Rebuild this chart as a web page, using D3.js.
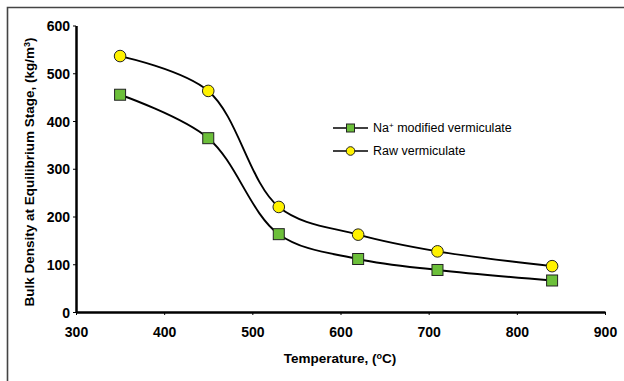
<!DOCTYPE html>
<html><head><meta charset="utf-8">
<script src="https://cdn.jsdelivr.net/npm/d3@7"></script>
<style>body{margin:0;background:#fff}svg{display:block;font-family:Arial,"Liberation Sans",sans-serif}</style>
</head><body>
<svg id="c" width="624" height="381"></svg>
<script>
const temps = [350, 450, 530, 620, 710, 840];
const naModified = [455, 364, 163, 111, 88, 66];
const rawVerm = [536, 463, 220, 162, 127, 96];
const xTicks = [300, 400, 500, 600, 700, 800, 900];
const yTicks = [0, 100, 200, 300, 400, 500, 600];
const seriesNames = ["Na modified vermiculate", "Raw vermiculate"];

const svg = d3.select("#c");
// frame
svg.append("path").attr("d","M7.5,400 V7.5 H640").attr("fill","none").attr("stroke","#444").attr("stroke-width",1.6);

const x = d3.scaleLinear().domain([300,900]).range([76,605]);
const y = d3.scaleLinear().domain([0,600]).range([312,25.5]);

const xa = svg.append("g").attr("transform","translate(0,312)")
  .call(d3.axisBottom(x).tickValues(xTicks).tickSize(3).tickSizeOuter(0));
xa.select(".domain").attr("stroke","#000").attr("stroke-width",2.5);
xa.selectAll(".tick line").attr("stroke","#000");
xa.selectAll("text").attr("font-size",14).attr("font-weight","bold").attr("fill","#000").attr("font-family","Arial,'Liberation Sans',sans-serif").attr("dy",0).attr("y",25);

const ya = svg.append("g").attr("transform","translate(76,0)")
  .call(d3.axisLeft(y).tickValues(yTicks).tickSize(3).tickSizeOuter(0));
ya.select(".domain").attr("stroke","#000").attr("stroke-width",2.5);
ya.selectAll(".tick line").attr("stroke","#000");
ya.selectAll("text").attr("font-size",14).attr("font-weight","bold").attr("fill","#000").attr("font-family","Arial,'Liberation Sans',sans-serif").attr("x",-6).attr("dy","0.36em");

const line = d3.line().x(d=>x(d[0])).y(d=>y(d[1])).curve(d3.curveCatmullRom.alpha(0.5));
const naData = temps.map((t,i)=>[t,naModified[i]]);
const rawData = temps.map((t,i)=>[t,rawVerm[i]]);
[naData, rawData].forEach(dd=>{
  svg.append("path").attr("d",line(dd)).attr("fill","none").attr("stroke","#000").attr("stroke-width",1.9);
});
const green = "#6cbf3a", yellow = "#fff200";
svg.selectAll(".sq").data(naData).enter().append("rect")
  .attr("x",d=>x(d[0])-5.5).attr("y",d=>y(d[1])-5.5).attr("width",11).attr("height",11)
  .attr("fill",green).attr("stroke","#222").attr("stroke-width",1);
svg.selectAll(".ci").data(rawData).enter().append("circle")
  .attr("cx",d=>x(d[0])).attr("cy",d=>y(d[1])).attr("r",5.8)
  .attr("fill",yellow).attr("stroke","#222").attr("stroke-width",1);

// legend
const lg = svg.append("g");
[128,151].forEach((ly,i)=>{
  lg.append("line").attr("x1",333).attr("x2",368).attr("y1",ly).attr("y2",ly).attr("stroke","#000").attr("stroke-width",1.5);
  if(i===0) lg.append("rect").attr("x",346.5).attr("y",ly-4).attr("width",8).attr("height",8).attr("fill",green).attr("stroke","#222").attr("stroke-width",1);
  else lg.append("circle").attr("cx",350.5).attr("cy",ly).attr("r",4.3).attr("fill",yellow).attr("stroke","#222").attr("stroke-width",1);
});
const t1 = lg.append("text").attr("x",373).attr("y",132).attr("font-size",12.5).attr("fill","#000");
t1.append("tspan").text("Na");
t1.append("tspan").text("+").attr("font-size",8).attr("dy",-4);
t1.append("tspan").text(" modified vermiculate").attr("dy",4);
lg.append("text").attr("x",373).attr("y",155).attr("font-size",12.5).attr("fill","#000").text(seriesNames[1]);

// axis titles
const xt = svg.append("text").attr("x",340).attr("y",363).attr("text-anchor","middle").attr("font-size",13.5).attr("font-weight","bold").attr("fill","#000");
xt.append("tspan").text("Temperature, (");
xt.append("tspan").text("o").attr("font-size",9).attr("dy",-4);
xt.append("tspan").text("C)").attr("dy",4);

const yt = svg.append("text").attr("transform","translate(34,172) rotate(-90)").attr("text-anchor","middle").attr("font-size",13.5).attr("font-weight","bold").attr("fill","#000");
yt.append("tspan").text("Bulk Density at Equilibrium Stage, (kg/m");
yt.append("tspan").text("3").attr("font-size",9).attr("dy",-4);
yt.append("tspan").text(")").attr("dy",4);
</script>
</body></html>
